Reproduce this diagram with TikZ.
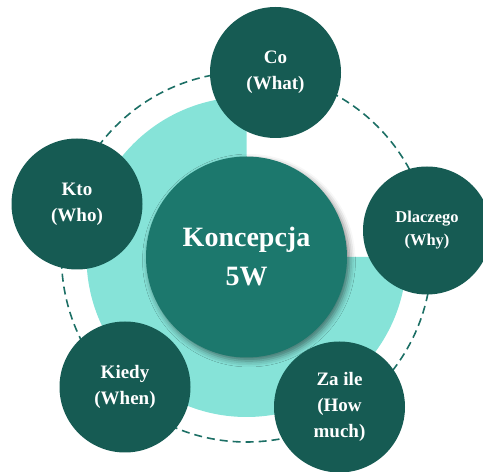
\documentclass[tikz,border=0pt]{standalone}
\usepackage{fontspec}
\setmainfont{Liberation Serif}
\usetikzlibrary{shadows.blur}
\definecolor{darkteal}{HTML}{165B53}
\definecolor{midteal}{HTML}{1C786D}
\definecolor{lightteal}{HTML}{86E3D8}
\definecolor{dashteal}{HTML}{1C6F65}
\begin{document}
\begin{tikzpicture}[x=1pt,y=1pt,
  hub/.style={circle, fill=midteal, inner sep=0pt, minimum size=201pt,
    text=white, align=center, font=\bfseries\fontsize{28}{39}\selectfont,
    blur shadow={shadow xshift=2.5pt, shadow yshift=-3.5pt, shadow blur radius=6pt, shadow opacity=50}},
  spoke/.style={circle, fill=darkteal, inner sep=0pt, minimum size=131pt,
    text=white, align=center, font=\bfseries\fontsize{19}{26}\selectfont},
  ring/.style={draw=dashteal, line width=1.6pt, dash pattern=on 8pt off 5pt}]
  \useasboundingbox (0,0) rectangle (483,472);
  \clip (0,0) rectangle (483,472);
  \coordinate (c) at (246.5,215);
  % three-quarter pie behind the hub
  \fill[lightteal] (c) -- ++(90:160) arc[start angle=90, end angle=360, radius=160] -- cycle;
  % dashed orbit
  \draw[ring] (c) circle[radius=185];
  % central concept
  \node[hub] (hub) at (c) {Koncepcja\\5W};
  % the five questions
  \node[spoke] (co) at (275.5,399.5) {Co\\(What)};
  \node[spoke] (kto) at (77,268) {Kto\\(Who)};
  \node[spoke, minimum size=128pt, font=\bfseries\fontsize{16.5}{23}\selectfont] (dlaczego) at (427,241.5) {Dlaczego\\(Why)};
  \node[spoke] (kiedy) at (125,85) {Kiedy\\(When)};
  \node[spoke] (zaile) at (339.5,65) {Za ile\\(How\\much)};
\end{tikzpicture}
\end{document}
